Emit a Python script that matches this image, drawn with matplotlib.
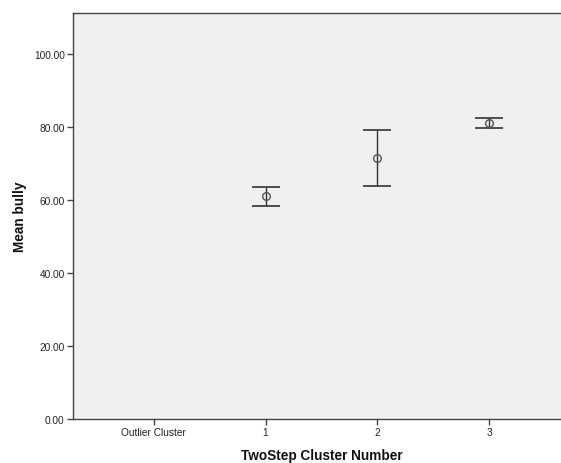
import matplotlib
matplotlib.use("Agg")
import matplotlib.pyplot as plt
import numpy as np

categories = ["Outlier Cluster", "1", "2", "3"]
means = [np.nan, 61.0, 71.4, 81.1]
upper = [np.nan, 63.5, 79.2, 82.5]
lower = [np.nan, 58.3, 63.7, 79.8]
yticks = [0, 20, 40, 60, 80, 100]

plt.rcParams['font.family'] = ['Liberation Sans', 'DejaVu Sans']

fig = plt.figure(figsize=(5.61, 4.64), dpi=100)
fig.patch.set_facecolor('white')
W, H = 561, 464
ax = fig.add_axes([73 / W, (H - 420) / H, (570 - 73) / W, (420 - 14) / H])
ax.set_facecolor('#F0F0F0')

x = np.arange(len(categories))
m = np.array(means)
lo = np.array(lower)
hi = np.array(upper)
ax.errorbar(x, m, yerr=[m - lo, hi - m], fmt='none', ecolor='#333333',
            elinewidth=1.0, capsize=10, capthick=1.2)
ax.plot(x, m, linestyle='none', marker='o', markersize=5.5,
        markerfacecolor='none', markeredgecolor='#555555', markeredgewidth=1.0)

ax.set_xlim(-0.72, 3.72)
ax.set_ylim(0, 111.2)
ax.set_xticks(x)
ax.set_xticklabels(categories)
ax.set_yticks(yticks)
ax.set_yticklabels([f"{v:.2f}" for v in yticks])

for s in ['top', 'left', 'bottom']:
    ax.spines[s].set_color('#444444')
    ax.spines[s].set_linewidth(1.0)
ax.spines['right'].set_visible(False)

ax.tick_params(axis='both', direction='out', length=4, width=1.0,
               color='#444444', labelsize=7.3, labelcolor='#222222', pad=2)

ax.set_xlabel("TwoStep Cluster Number", fontsize=9.8, fontweight='bold',
              labelpad=8, color='#111111')
ax.set_ylabel("Mean bully", fontsize=9.8, fontweight='bold',
              labelpad=5, color='#111111')

fig.savefig("out.png", dpi=100)
